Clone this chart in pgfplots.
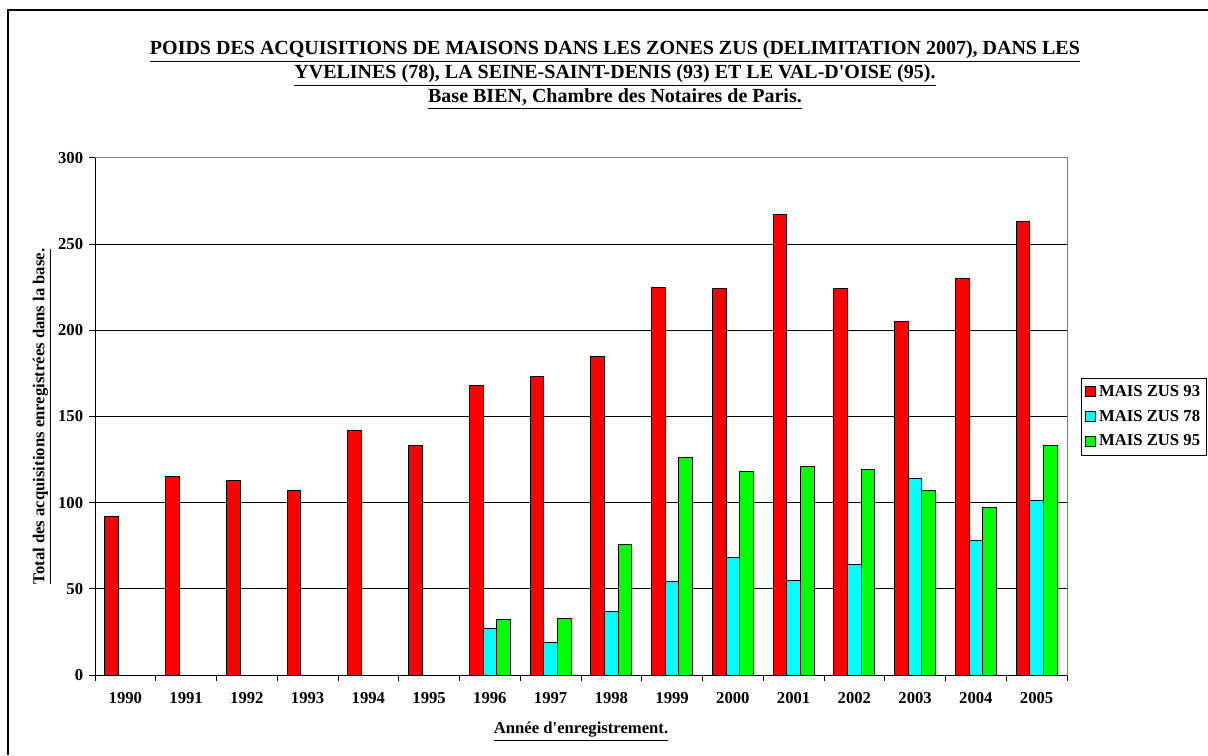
\documentclass[border=0pt]{standalone}
\usepackage{pgfplots}
\pgfplotsset{compat=1.18}
\usepackage{fontspec}
\setmainfont{Liberation Serif}
\definecolor{cred}{RGB}{255,0,0}
\definecolor{ccyan}{RGB}{0,255,255}
\definecolor{cgreen}{RGB}{0,255,0}
\pgfplotstableread{
x  z93  z78  z95
0  92   0    0
1  115  0    0
2  113  0    0
3  107  0    0
4  142  0    0
5  133  0    0
6  168  27   32
7  173  19   33
8  185  37   76
9  225  54   126
10 224  68   118
11 267  55   121
12 224  64   119
13 205  114  107
14 230  78   97
15 263  101  133
}\datatable
\begin{document}
\begin{tikzpicture}
\useasboundingbox (0,0) rectangle (724.8pt,453pt);
\draw[line width=1.2pt] (4.8pt,0pt) -- (4.8pt,447pt) -- (724.8pt,447pt);
\node[align=center,font=\fontsize{12}{14.4}\selectfont\bfseries] at (369pt,408pt)
 {\underline{POIDS DES ACQUISITIONS DE MAISONS DANS LES ZONES ZUS (DELIMITATION 2007), DANS LES}\\
  \underline{YVELINES (78), LA SEINE-SAINT-DENIS (93) ET LE VAL-D\textquotesingle OISE (95).}\\
  \underline{Base BIEN, Chambre des Notaires de Paris.}};
\begin{axis}[
  at={(57pt,48pt)}, anchor=south west,
  scale only axis, width=583.2pt, height=310.2pt,
  ybar=0pt, bar width=8.2pt,
  xmin=-0.5, xmax=15.5, ymin=0, ymax=300,
  xtick={-0.5,0.5,...,15.5},
  xticklabels={1990,1991,1992,1993,1994,1995,1996,1997,1998,1999,2000,2001,2002,2003,2004,2005,{}},
  xticklabel style={xshift=18.225pt, yshift=-3.6pt},
  ytick={0,50,...,300},
  xtick pos=lower, ytick pos=left,
  tick align=outside, major tick length=3.6pt,
  tick style={black, line width=0.6pt},
  ymajorgrids, grid style={black, line width=0.6pt},
  axis line style={draw=gray, line width=0.6pt},
  ticklabel style={font=\fontsize{10}{12}\selectfont\bfseries},
  /pgf/number format/assume math mode=true,
  xlabel={\underline{Année d\textquotesingle enregistrement.}},
  ylabel={\underline{Total des acquisitions enregistrées dans la base.}},
  label style={font=\fontsize{10}{12}\selectfont\bfseries},
  xlabel style={at={(axis description cs:0.5,0)}, anchor=center, yshift=-34pt},
  ylabel style={at={(axis description cs:0,0.5)}, anchor=center, rotate=0, yshift=31.8pt},
  legend style={at={(1.0144,0.5745)}, anchor=north west, draw=black, line width=0.6pt,
    font=\fontsize{10}{12}\selectfont\bfseries, row sep=2.8pt, inner sep=2pt},
  legend cell align=left,
  legend image code/.code={\draw[#1,draw=black,line width=0.6pt] (0pt,-3pt) rectangle (6pt,3pt);},
  every axis plot/.append style={draw=black, line width=0.6pt},
]
\addplot[fill=cred] table[x=x,y=z93]{\datatable};
\addplot[fill=ccyan] table[x=x,y=z78]{\datatable};
\addplot[fill=cgreen] table[x=x,y=z95]{\datatable};
\legend{MAIS ZUS 93,MAIS ZUS 78,MAIS ZUS 95}
\draw[gray,line width=0.6pt] (rel axis cs:0,1) -- (rel axis cs:1,1) -- (rel axis cs:1,0);
\draw[black,line width=0.6pt] (rel axis cs:0,1) -- (rel axis cs:0,0) -- (rel axis cs:1,0);
\end{axis}
\end{tikzpicture}
\end{document}
